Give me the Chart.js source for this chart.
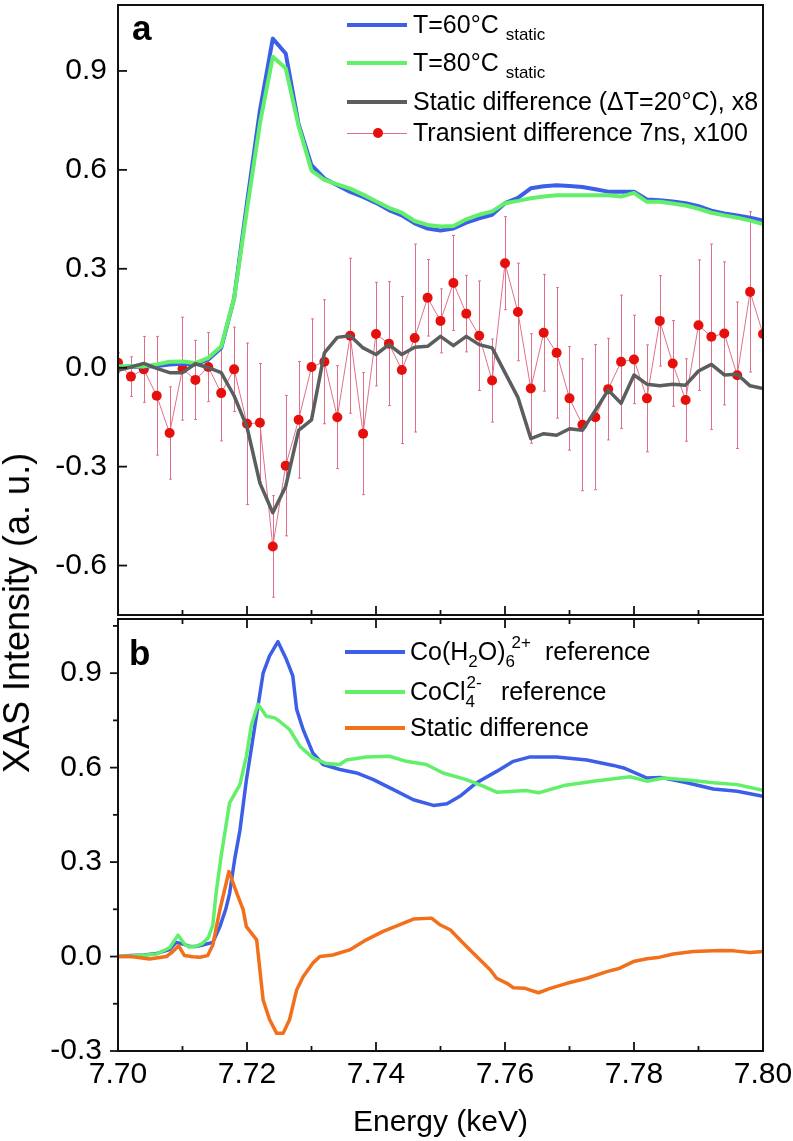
<!DOCTYPE html>
<html>
<head>
<meta charset="utf-8">
<script src="https://cdn.jsdelivr.net/npm/chart.js@4.4.1/dist/chart.umd.min.js"></script>
<style>
  body { margin: 0; background: #fff; }
  #wrap { position: relative; width: 793px; height: 1141px; overflow: hidden;
          font-family: "Liberation Sans", Arial, sans-serif; color: #000; }
  canvas { position: absolute; left: 0; }
  #cA { top: 0; }
  #cB { top: 609px; }
  .lab { position: absolute; font-weight: bold; font-size: 35px; line-height: 35px; }
  .ytitle { position: absolute; left: 17px; top: 613px; font-size: 36px; line-height: 36px;
            white-space: nowrap; transform: translate(-50%, -50%) rotate(-90deg); }
  .txt { position: absolute; font-size: 25px; line-height: 25px; white-space: nowrap; }
  .sw { position: absolute; height: 0; }
  .dot { position: absolute; width: 10px; height: 10px; border-radius: 5px; background: #e5100c; }
  .sb { font-size: 17px; position: relative; top: 7px; }
  .stk { position: relative; display: inline-block; }
  .stk .dn { font-size: 17px; position: relative; top: 7px; }
  .stk .up { font-size: 17px; position: absolute; left: 1px; top: -9px; }
</style>
</head>
<body>
<div id="wrap">
  <canvas id="cA" width="793" height="620"></canvas>
  <canvas id="cB" width="793" height="532"></canvas>

  <div class="lab" style="left:132px; top:10px;">a</div>
  <div class="lab" style="left:129px; top:635px;">b</div>
  <div class="ytitle">XAS Intensity (a. u.)</div>

  <!-- legend a -->
  <div class="sw" style="left:347px; top:23px; width:60px; border-top:4px solid #3d5fe8;"></div>
  <div class="txt" style="left:413px; top:12px;">T=60°C <span class="sb">static</span></div>
  <div class="sw" style="left:347px; top:61px; width:60px; border-top:4px solid #62f06a;"></div>
  <div class="txt" style="left:413px; top:50px;">T=80°C <span class="sb">static</span></div>
  <div class="sw" style="left:347px; top:100px; width:60px; border-top:4px solid #5a5e5e;"></div>
  <div class="txt" style="left:413px; top:89px;">Static difference (ΔT=20°C), x8</div>
  <div class="sw" style="left:347px; top:133px; width:60px; border-top:1px solid #e0708a;"></div>
  <div class="dot" style="left:373px; top:128px;"></div>
  <div class="txt" style="left:413px; top:120px;">Transient difference 7ns, x100</div>

  <!-- legend b -->
  <div class="sw" style="left:345px; top:650px; width:60px; border-top:4px solid #3d5fe8;"></div>
  <div class="txt" style="left:410px; top:639px;">Co(H<span class="sb">2</span>O)<span class="stk" style="margin-right:9px;"><span class="dn">6</span><span class="up" style="left:6px;">2+</span></span>&nbsp;&nbsp; reference</div>
  <div class="sw" style="left:345px; top:690px; width:60px; border-top:4px solid #62f06a;"></div>
  <div class="txt" style="left:410px; top:679px;">CoCl<span class="stk" style="margin-right:5px;"><span class="dn">4</span><span class="up">2-</span></span>&nbsp;&nbsp; reference</div>
  <div class="sw" style="left:345px; top:726px; width:60px; border-top:4px solid #f26f1c;"></div>
  <div class="txt" style="left:410px; top:715px;">Static difference</div>
</div>

<script>
// ---- panel a: temperature series and transient (7.700 .. 7.800 keV, 2 eV steps)
const energyA = [7.700, 7.702, 7.704, 7.706, 7.708, 7.710, 7.712, 7.714, 7.716, 7.718,
                 7.720, 7.722, 7.724, 7.726, 7.728, 7.730, 7.732, 7.734, 7.736, 7.738,
                 7.740, 7.742, 7.744, 7.746, 7.748, 7.750, 7.752, 7.754, 7.756, 7.758,
                 7.760, 7.762, 7.764, 7.766, 7.768, 7.770, 7.772, 7.774, 7.776, 7.778,
                 7.780, 7.782, 7.784, 7.786, 7.788, 7.790, 7.792, 7.794, 7.796, 7.798, 7.800];
const static60 = [0.002, 0.004, 0.003, 0.005, 0.010, 0.012, 0.010, 0.025, 0.060, 0.210,
                  0.500, 0.780, 0.998, 0.953, 0.739, 0.614, 0.574, 0.553, 0.533, 0.518,
                  0.500, 0.478, 0.462, 0.438, 0.422, 0.416, 0.422, 0.440, 0.453, 0.464,
                  0.499, 0.515, 0.544, 0.550, 0.553, 0.551, 0.548, 0.541, 0.534, 0.534,
                  0.534, 0.510, 0.508, 0.504, 0.499, 0.490, 0.476, 0.468, 0.462, 0.455, 0.446];
const static80 = [0.004, 0.005, 0.004, 0.010, 0.018, 0.019, 0.014, 0.030, 0.064, 0.210,
                  0.480, 0.740, 0.943, 0.908, 0.733, 0.598, 0.570, 0.556, 0.543, 0.525,
                  0.505, 0.485, 0.470, 0.445, 0.433, 0.428, 0.430, 0.450, 0.464, 0.474,
                  0.499, 0.506, 0.514, 0.519, 0.523, 0.523, 0.523, 0.523, 0.523, 0.519,
                  0.530, 0.503, 0.503, 0.498, 0.492, 0.482, 0.470, 0.462, 0.455, 0.446, 0.436];
const staticDiff = [-0.008, 0.002, 0.013, -0.002, -0.015, -0.015, 0.012, 0.000, -0.015, -0.085,
                    -0.180, -0.350, -0.440, -0.360, -0.190, -0.158, 0.045, 0.092, 0.097, 0.060,
                    0.040, 0.070, 0.040, 0.062, 0.065, 0.095, 0.067, 0.095, 0.070, 0.060,
                    -0.015, -0.090, -0.215, -0.200, -0.205, -0.185, -0.190, -0.130, -0.068, -0.108,
                    -0.022, -0.050, -0.055, -0.050, -0.053, -0.010, 0.010, -0.022, -0.020, -0.055, -0.063];
const transient = [0.015, -0.027, -0.005, -0.085, -0.198, -0.003, -0.037, 0.002, -0.077, -0.005,
                   -0.170, -0.167, -0.542, -0.297, -0.158, 0.002, 0.018, -0.150, 0.097, -0.200,
                   0.102, 0.073, -0.007, 0.090, 0.212, 0.142, 0.257, 0.164, 0.097, -0.039,
                   0.317, 0.169, -0.063, 0.106, 0.045, -0.093, -0.173, -0.150, -0.065, 0.018,
                   0.025, -0.093, 0.142, 0.013, -0.098, 0.129, 0.094, 0.104, -0.023, 0.230, 0.102];
const transientErr = [0.030, 0.060, 0.100, 0.180, 0.140, 0.156, 0.120, 0.105, 0.145, 0.128,
                      0.245, 0.180, 0.154, 0.213, 0.177, 0.146, 0.188, 0.156, 0.235, 0.185,
                      0.157, 0.188, 0.223, 0.285, 0.116, 0.097, 0.144, 0.116, 0.166, 0.126,
                      0.141, 0.148, 0.166, 0.177, 0.198, 0.157, 0.200, 0.220, 0.154, 0.202,
                      0.134, 0.162, 0.137, 0.130, 0.125, 0.198, 0.281, 0.217, 0.222, 0.243, 0.150];

// ---- panel b: reference spectra
const hexaE = [7.700, 7.702, 7.704, 7.706, 7.708, 7.709, 7.710, 7.711, 7.712, 7.713,
               7.7147, 7.7158, 7.7167, 7.7173, 7.7181, 7.7189, 7.7199, 7.7209, 7.7225, 7.7235,
               7.7248, 7.7261, 7.7271, 7.7277, 7.7287, 7.7302, 7.7318, 7.7344, 7.737, 7.7396,
               7.7427, 7.7458, 7.7489, 7.751, 7.753, 7.7556, 7.7587, 7.7613, 7.7639, 7.768,
               7.7727, 7.7768, 7.7784, 7.782, 7.7841, 7.7882, 7.7923, 7.796, 7.800];
const hexaY = [0.000, 0.003, 0.005, 0.010, 0.022, 0.045, 0.040, 0.033, 0.032, 0.036,
               0.045, 0.095, 0.150, 0.200, 0.310, 0.400, 0.560, 0.690, 0.900, 0.955,
               1.000, 0.944, 0.891, 0.785, 0.721, 0.647, 0.610, 0.594, 0.583, 0.562,
               0.530, 0.498, 0.480, 0.485, 0.509, 0.552, 0.588, 0.620, 0.634, 0.634,
               0.624, 0.607, 0.599, 0.567, 0.569, 0.552, 0.532, 0.525, 0.509];
const tetraE = [7.700, 7.702, 7.704, 7.706, 7.708, 7.7093, 7.7103, 7.711, 7.712, 7.713,
                7.714, 7.7147, 7.7152, 7.716, 7.7173, 7.7189, 7.7199, 7.7207, 7.7217, 7.723,
                7.7243, 7.725, 7.7266, 7.7282, 7.7302, 7.7323, 7.7344, 7.7354, 7.7385, 7.7421,
                7.7447, 7.7478, 7.7504, 7.754, 7.7566, 7.7587, 7.7613, 7.7634, 7.7652, 7.7691,
                7.7737, 7.7794, 7.782, 7.7846, 7.7887, 7.7923, 7.796, 7.800];
const tetraY = [0.000, 0.002, 0.004, 0.008, 0.028, 0.068, 0.040, 0.030, 0.032, 0.040,
                0.060, 0.100, 0.200, 0.320, 0.488, 0.546, 0.636, 0.737, 0.801, 0.763,
                0.758, 0.748, 0.721, 0.668, 0.631, 0.613, 0.610, 0.624, 0.634, 0.636,
                0.620, 0.610, 0.583, 0.562, 0.541, 0.522, 0.525, 0.527, 0.520, 0.543,
                0.557, 0.571, 0.557, 0.567, 0.560, 0.552, 0.546, 0.528];
const refDiffE = [7.700, 7.7023, 7.7049, 7.7075, 7.7085, 7.7094, 7.7103, 7.7116, 7.7127, 7.7139,
                  7.7147, 7.7158, 7.7172, 7.7184, 7.7194, 7.7199, 7.7215, 7.7225, 7.7235, 7.7246,
                  7.7256, 7.7266, 7.7277, 7.7287, 7.7302, 7.7313, 7.7333, 7.7359, 7.7385, 7.7411,
                  7.7437, 7.7458, 7.7486, 7.7499, 7.7515, 7.7535, 7.7556, 7.7577, 7.7587, 7.7603,
                  7.7613, 7.7631, 7.7652, 7.767, 7.7696, 7.7727, 7.7758, 7.7778, 7.7799, 7.782,
                  7.784, 7.7861, 7.7892, 7.7934, 7.7955, 7.798, 7.800];
const refDiffY = [0.000, -0.001, -0.008, 0.000, 0.016, 0.034, 0.003, -0.001, -0.002, 0.003,
                  0.037, 0.149, 0.270, 0.202, 0.149, 0.095, 0.053, -0.138, -0.200, -0.244,
                  -0.244, -0.200, -0.106, -0.064, -0.021, 0.000, 0.005, 0.021, 0.053, 0.080,
                  0.101, 0.119, 0.122, 0.101, 0.085, 0.043, 0.000, -0.042, -0.069, -0.085,
                  -0.099, -0.101, -0.115, -0.101, -0.085, -0.069, -0.048, -0.037, -0.016, -0.007,
                  -0.002, 0.008, 0.016, 0.019, 0.018, 0.013, 0.016];

// ---- ticks
const xMajor = [7.70, 7.72, 7.74, 7.76, 7.78, 7.80];
const xMinor = [7.71, 7.73, 7.75, 7.77, 7.79];
const yTicksA = [-0.6, -0.3, 0.0, 0.3, 0.6, 0.9];
const yTicksB = [-0.3, 0.0, 0.3, 0.6, 0.9];
const yMinorB = [-0.15, 0.15, 0.45, 0.75, 1.05];

const FONT = '"Liberation Sans", Arial, sans-serif';
const BLUE = '#3d5fe8', GREEN = '#62f06a', GRAY = '#5a5e5e', PINK = '#e0708a', RED = '#e5100c', ORANGE = '#f26f1c';

Chart.defaults.color = '#000';
Chart.defaults.font.family = FONT;

const pts = (xs, ys) => xs.map((x, i) => ({ x: x, y: ys[i] }));
const line = (label, xs, ys, color, width, order) => ({
  label: label, data: pts(xs, ys), borderColor: color, backgroundColor: color,
  borderWidth: width, pointRadius: 0, tension: 0, order: order,
  borderJoinStyle: 'round', borderCapStyle: 'round'
});

function tick(ctx, x1, y1, x2, y2) {
  ctx.beginPath(); ctx.moveTo(x1, y1); ctx.lineTo(x2, y2); ctx.stroke();
}

const errorBars = {
  id: 'errorBars',
  beforeDatasetsDraw(chart) {
    const { ctx, chartArea: a, scales: { x, y } } = chart;
    ctx.save();
    ctx.beginPath(); ctx.rect(a.left, a.top, a.right - a.left, a.bottom - a.top); ctx.clip();
    ctx.strokeStyle = PINK; ctx.lineWidth = 1;
    energyA.forEach((e, i) => {
      const px = Math.round(x.getPixelForValue(e)) + 0.5;
      const top = y.getPixelForValue(transient[i] + transientErr[i]);
      const bot = y.getPixelForValue(transient[i] - transientErr[i]);
      tick(ctx, px, top, px, bot);
      tick(ctx, px - 1.5, top, px + 1.5, top);
      tick(ctx, px - 1.5, bot, px + 1.5, bot);
    });
    ctx.restore();
  }
};

const frameA = {
  id: 'frameA',
  afterDraw(chart) {
    const { ctx, chartArea: a, scales: { x, y } } = chart;
    ctx.save();
    ctx.strokeStyle = '#111'; ctx.lineWidth = 2;
    ctx.strokeRect(a.left, a.top, a.right - a.left, a.bottom - a.top);
    ctx.lineWidth = 1.8;
    yTicksA.forEach(v => { const p = y.getPixelForValue(v); tick(ctx, a.left, p, a.left + 9, p); });
    xMajor.forEach(v => { const p = x.getPixelForValue(v); tick(ctx, p, a.bottom, p, a.bottom - 9); });
    xMinor.forEach(v => { const p = x.getPixelForValue(v); tick(ctx, p, a.bottom, p, a.bottom - 5); });
    ctx.restore();
  }
};

const frameB = {
  id: 'frameB',
  afterDraw(chart) {
    const { ctx, chartArea: a, scales: { x, y } } = chart;
    ctx.save();
    ctx.strokeStyle = '#111'; ctx.lineWidth = 2;
    ctx.strokeRect(a.left, a.top, a.right - a.left, a.bottom - a.top);
    ctx.lineWidth = 1.8;
    yTicksB.forEach(v => { const p = y.getPixelForValue(v); tick(ctx, a.left - 8, p, a.left, p); });
    yMinorB.forEach(v => { const p = y.getPixelForValue(v); tick(ctx, a.left - 5, p, a.left, p); });
    xMajor.forEach(v => {
      const p = x.getPixelForValue(v);
      tick(ctx, p, a.bottom, p, a.bottom - 9);
      tick(ctx, p, a.top, p, a.top + 9);
    });
    xMinor.forEach(v => {
      const p = x.getPixelForValue(v);
      tick(ctx, p, a.bottom, p, a.bottom - 5);
      tick(ctx, p, a.top, p, a.top + 5);
    });
    ctx.restore();
  }
};

const yAxis = (min, max, ticks, pad) => ({
  min: min, max: max,
  afterFit: s => { s.width = 118; s.paddingTop = 0; s.paddingBottom = 0; },
  afterBuildTicks: s => { s.ticks = ticks.map(v => ({ value: v })); },
  grid: { display: false, drawTicks: false },
  border: { display: false },
  ticks: { padding: pad, font: { size: 30 }, color: '#000', callback: v => Number(v).toFixed(1) }
});

new Chart(document.getElementById('cA'), {
  type: 'line',
  data: {
    datasets: [
      {
        label: 'Transient difference 7ns, x100', data: pts(energyA, transient),
        borderColor: PINK, borderWidth: 1, pointRadius: 5, pointBackgroundColor: RED,
        pointBorderWidth: 0, tension: 0, order: 4
      },
      line('T=60°C static', energyA, static60, BLUE, 4, 3),
      line('T=80°C static', energyA, static80, GREEN, 4, 2),
      line('Static difference (ΔT=20°C), x8', energyA, staticDiff, GRAY, 3.5, 1)
    ]
  },
  options: {
    responsive: false, animation: false,
    layout: { padding: { top: 3, right: 30, bottom: 1, left: 0 } },
    plugins: { legend: { display: false }, tooltip: { enabled: false } },
    scales: {
      x: { type: 'linear', min: 7.70, max: 7.80, display: false },
      y: yAxis(-0.75, 1.1, yTicksA, 11)
    }
  },
  plugins: [errorBars, frameA]
});

new Chart(document.getElementById('cB'), {
  type: 'line',
  data: {
    datasets: [
      line('Co(H2O)6 2+ reference', hexaE, hexaY, BLUE, 3.5, 3),
      line('CoCl4 2- reference', tetraE, tetraY, GREEN, 3.5, 2),
      line('Static difference', refDiffE, refDiffY, ORANGE, 3.5, 1)
    ]
  },
  options: {
    responsive: false, animation: false,
    layout: { padding: { top: 10, right: 30, bottom: 0, left: 0 } },
    plugins: { legend: { display: false }, tooltip: { enabled: false } },
    scales: {
      x: {
        type: 'linear', min: 7.70, max: 7.80,
        afterFit: s => { s.height = 90; s.paddingLeft = 0; s.paddingRight = 0; },
        afterBuildTicks: s => { s.ticks = xMajor.map(v => ({ value: v })); },
        grid: { display: false, drawTicks: false },
        border: { display: false },
        ticks: { padding: 6, maxRotation: 0, autoSkip: false, font: { size: 30 }, color: '#000',
                 callback: v => Number(v).toFixed(2) },
        title: { display: true, text: 'Energy (keV)', font: { size: 30 }, color: '#000',
                 padding: { top: 0, bottom: 0 } }
      },
      y: yAxis(-0.3, 1.072, yTicksB, 16)
    }
  },
  plugins: [frameB]
});
</script>
</body>
</html>
